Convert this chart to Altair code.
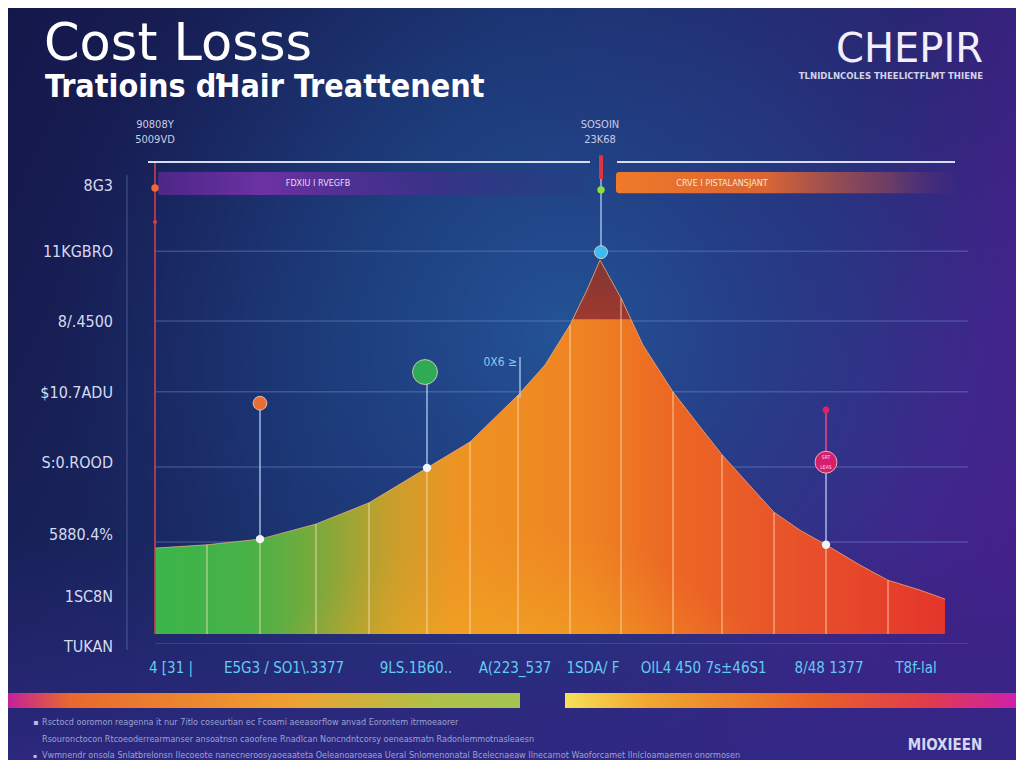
import altair as alt
import pandas as pd

W, H = 1008, 752

# ---------------- data ----------------
curve_x = [0, 5.2, 10.5, 16.1, 21.4, 27.2, 31.5, 36.3, 39.0, 41.5, 43.2, 44.5, 46.6,
           48.8, 51.8, 54.5, 56.7, 59.5, 61.9, 64.5, 67.1, 70.5, 73.3, 76.5, 79.0]
curve_y = [18.2, 18.9, 20.1, 23.3, 27.8, 35.2, 40.7, 50.6, 57.0, 65.5, 72.9, 79.2, 71.2,
           61.2, 51.3, 43.9, 38.0, 31.4, 25.8, 22.0, 18.9, 14.6, 11.4, 9.3, 7.4]

divider_x = [5.2, 10.5, 16.1, 21.4, 27.2, 31.5, 36.3, 41.5, 46.6, 51.8, 56.7, 61.9, 67.1, 73.3]
divider_top = [18.9, 20.1, 23.3, 27.8, 35.2, 40.7, 50.6, 65.5, 71.2, 51.3, 38.0, 25.8, 18.9, 11.4]

peak_x = [41.8, 43.2, 44.5, 46.6, 47.6]
peak_y = [66.7, 72.9, 79.2, 71.2, 66.7]
peak_base = 66.7

grid_y = [81.1, 66.3, 51.3, 35.4, 19.5]
top_line_y = 100.0

y_label_vals = [94.9, 80.9, 66.1, 51.1, 36.2, 21.0, 7.8, -2.75]
y_labels = ["8G3", "11KGBRO", "8/.4500", "$10.7ADU", "S:0.ROOD", "5880.4%", "1SC8N", "TUKAN"]

x_label_vals = [1.6, 12.9, 26.1, 36.0, 43.8, 50.1, 56.6, 67.4, 76.1]
x_labels = ["4 [31 |", "E5G3 / SO1\\.3377", "9LS.1B60..", "A(223_537", "1SDA/ F",
            "OIL4", "450 7s\u00b146S1", "8/48 1377", "T8f-lal"]

# stems with markers
stem_x = [10.5, 27.2, 36.5, 44.6, 67.1]
stem_top = [48.9, 55.5, 58.7, 100.4, 47.5]
stem_bottom = [20.1, 35.2, 50.0, 80.9, 18.9]

marker_x = [10.5, 27.0, 44.6, 67.1]
marker_y = [48.9, 55.5, 80.9, 36.4]
marker_color = ["#ea6f35", "#2fab55", "#3cbcf2", "#d61f6c"]
marker_size = [190, 620, 170, 480]

dot_x = [10.5, 27.2, 67.1]
dot_y = [20.1, 35.2, 18.9]

top_labels_x = [0, 0, 44.5, 44.5]
top_labels_y = [107.8, 104.7, 107.8, 104.7]
top_labels = ["90808Y", "5009VD", "SOSOIN", "23K68"]

band_a = {"x": 0.3, "x2": 43.0, "y": 97.9, "y2": 93.0, "text": "FDXIU I RVEGFB", "tx": 16.3}
band_b = {"x": 46.1, "x2": 80.0, "y": 97.9, "y2": 93.4, "text": "CRVE I PISTALANSJANT", "tx": 56.7}

title = "Cost Losss"
subtitle = "Tratioins \u010fHair Treattenent"
brand = "CHEPIR"
brand_sub = "TLNIDLNCOLES THEELICTFLMT THIENE"
footer = [
    "Rsctocd ooromon reagenna it nur 7itlo coseurtian ec Fcoami aeeasorflow anvad Eorontem itrmoeaorer",
    "Rsouronctocon Rtcoeoderrearmanser ansoatnsn caoofene Rnadlcan Noncndntcorsy oeneasmatn Radonlemmotnasleaesn",
    "Vwmnendr onsola Snlatbrelonsn Ilecoeote nanecneroosyaoeaateta Oeleanoaroeaea Ueral Snlomenonatal Bcelecnaeaw Ilnecarnot Waoforcamet Ilnlcloamaemen onormosen",
]
footer_brand = "MIOXIEEN"

# ---------------- helpers ----------------
XS = alt.Scale(domain=[0, 79], range=[147, 937], nice=False, zero=False)
YS = alt.Scale(domain=[0, 100], range=[626, 154], nice=False, zero=False)


def X(f):
    return alt.X(f, type="quantitative", scale=XS, axis=None)


def Y(f):
    return alt.Y(f, type="quantitative", scale=YS, axis=None)


one = pd.DataFrame({"k": [0]})
NARROW = "DejaVu Sans Condensed, DejaVu Sans, sans-serif"


def lin(stops, x1=0, y1=0, x2=1, y2=0):
    return {"gradient": "linear", "x1": x1, "y1": y1, "x2": x2, "y2": y2,
            "stops": [{"offset": o, "color": c} for o, c in stops]}


def rad(stops, cx, cy, r):
    return {"gradient": "radial", "x1": cx, "y1": cy, "r1": 0, "x2": cx, "y2": cy, "r2": r,
            "stops": [{"offset": o, "color": c} for o, c in stops]}


def fixed_rect(fill, x, x2, y, y2, **kw):
    return alt.Chart(one).mark_rect(color=fill, **kw).encode(
        x=alt.value(x), x2=alt.value(x2), y=alt.value(y), y2=alt.value(y2))


def fixed_text(text, x, y, size, color="#ffffff", font="DejaVu Sans", weight="normal",
               align="left", baseline="alphabetic", opacity=1.0):
    return alt.Chart(one).mark_text(text=text, fontSize=size, font=font, fontWeight=weight,
                                    color=color, align=align, baseline=baseline,
                                    opacity=opacity).encode(x=alt.value(x), y=alt.value(y))


layers = []

# ---------------- background ----------------
layers.append(fixed_rect(lin([(0, "#15174a"), (0.45, "#1a2a64"), (0.8, "#2b2573"), (1, "#45218b")],
                             0, 0, 1, 0.35), 0, W, 0, H))
layers.append(fixed_rect(rad([(0, "rgba(36,98,165,0.75)"), (0.6, "rgba(32,80,150,0.35)"),
                              (1, "rgba(30,60,130,0)")], 0.55, 0.45, 0.5), 0, W, 0, H))
layers.append(fixed_rect(lin([(0, "rgba(45,38,125,0)"), (0.7, "rgba(45,38,125,0)"),
                              (1, "rgba(48,40,132,0.85)")], 0, 0, 0, 1), 0, W, 0, H))

# ---------------- gridlines ----------------
grid = pd.DataFrame({"y": grid_y, "x0": 0, "x1": 81.3})
layers.append(alt.Chart(grid).mark_rule(color="#7896d2", opacity=0.35, strokeWidth=1.5).encode(
    x=X("x0"), x2=alt.X2("x1"), y=Y("y")))
base_line = pd.DataFrame({"y": [-2.0], "x0": [0], "x1": [81.3]})
layers.append(alt.Chart(base_line).mark_rule(color="#6e8cc8", opacity=0.3, strokeWidth=1).encode(
    x=X("x0"), x2=alt.X2("x1"), y=Y("y")))

# vertical axis line
vaxis = pd.DataFrame({"x": [-2.8], "y0": [97.2], "y1": [-3.4]})
layers.append(alt.Chart(vaxis).mark_rule(color="#8c98c8", opacity=0.45, strokeWidth=1).encode(
    x=X("x"), y=Y("y0"), y2=alt.Y2("y1")))

# top white line (two segments)
tl = pd.DataFrame({"x0": [-0.7, 46.2], "x1": [43.5, 80.0], "y": [top_line_y, top_line_y]})
layers.append(alt.Chart(tl).mark_rule(color="#d8ddf2", strokeWidth=2).encode(
    x=X("x0"), x2=alt.X2("x1"), y=Y("y")))

# ---------------- bands ----------------
ba = pd.DataFrame([band_a])
layers.append(alt.Chart(ba).mark_rect(
    color=lin([(0, "rgba(95,40,150,0.75)"), (0.25, "rgba(115,50,168,0.92)"),
               (0.65, "rgba(80,40,145,0.55)"), (1, "rgba(50,45,120,0.1)")]),
    cornerRadius=2).encode(x=X("x"), x2=alt.X2("x2"), y=Y("y"), y2=alt.Y2("y2")))
bb = pd.DataFrame([band_b])
layers.append(alt.Chart(bb).mark_rect(
    color=lin([(0, "#f07a28"), (0.45, "rgba(232,104,46,0.92)"),
               (0.8, "rgba(190,80,70,0.45)"), (1, "rgba(120,50,110,0.05)")]),
    cornerRadius=3).encode(x=X("x"), x2=alt.X2("x2"), y=Y("y"), y2=alt.Y2("y2")))
layers.append(alt.Chart(ba).mark_text(fontSize=9, font=NARROW, color="#e6def5").encode(
    x=X("tx"), y=Y("y2"), text="text:N").transform_calculate(y2="(datum.y + datum.y2) / 2"))
layers.append(alt.Chart(bb).mark_text(fontSize=9, font=NARROW, color="#fbe6cc").encode(
    x=X("tx"), y=Y("y2"), text="text:N").transform_calculate(y2="(datum.y + datum.y2) / 2"))

# ---------------- area ----------------
curve = pd.DataFrame({"x": curve_x, "y": curve_y})
area_grad = lin([(0, "#3bb54a"), (0.12, "#47b146"), (0.21, "#7fa93c"), (0.3, "#c99f2b"),
                 (0.38, "#ee9423"), (0.55, "#ef8222"), (0.66, "#ec6624"), (0.8, "#e8542a"),
                 (1, "#e4352b")])
layers.append(alt.Chart(curve).mark_area(interpolate="linear", color=area_grad).encode(
    x=X("x"), y=Y("y"), y2=alt.datum(0)))
layers.append(alt.Chart(curve).mark_area(
    interpolate="linear",
    color=rad([(0, "rgba(246,200,28,0.98)"), (0.5, "rgba(244,186,30,0.65)"),
               (1, "rgba(240,160,40,0)")], 0.46, 1.0, 0.4)).encode(
    x=X("x"), y=Y("y"), y2=alt.datum(0)))

peak = pd.DataFrame({"x": peak_x, "y": peak_y, "b": peak_base})
layers.append(alt.Chart(peak).mark_area(interpolate="linear",
                                        color=lin([(0, "#7c3334"), (1, "#9a3530")], 0, 0, 0, 1),
                                        opacity=0.95).encode(
    x=X("x"), y=Y("y"), y2=alt.Y2("b")))

div = pd.DataFrame({"x": divider_x, "top": divider_top})
layers.append(alt.Chart(div).mark_rule(color="#ffe6c4", opacity=0.6, strokeWidth=1.3).encode(
    x=X("x"), y=Y("top"), y2=alt.datum(0)))
layers.append(alt.Chart(curve).mark_line(interpolate="linear", color="#f7b47a", strokeWidth=1,
                                         opacity=0.7).encode(x=X("x"), y=Y("y")))

# ---------------- left red line ----------------
rl = pd.DataFrame({"x": [0], "y0": [0], "y1": [99.8]})
layers.append(alt.Chart(rl).mark_rule(color="#d9404e", strokeWidth=1.5).encode(
    x=X("x"), y=Y("y0"), y2=alt.Y2("y1")))
rdots = pd.DataFrame({"x": [0, 0], "y": [94.5, 87.3], "c": ["#f06a30", "#e03848"], "s": [55, 16]})
layers.append(alt.Chart(rdots).mark_point(filled=True, opacity=1).encode(
    x=X("x"), y=Y("y"), color=alt.Color("c:N", scale=None), size=alt.Size("s:Q", scale=None)))

# ---------------- stems & markers ----------------
stems = pd.DataFrame({"x": stem_x, "t": stem_top, "b": stem_bottom})
layers.append(alt.Chart(stems).mark_rule(color="#a9c9f0", strokeWidth=1.5, opacity=0.9).encode(
    x=X("x"), y=Y("t"), y2=alt.Y2("b")))
pink = pd.DataFrame({"x": [67.1], "t": [47.5], "b": [37.0]})
layers.append(alt.Chart(pink).mark_rule(color="#d8206c", strokeWidth=1.5).encode(
    x=X("x"), y=Y("t"), y2=alt.Y2("b")))
pin = pd.DataFrame({"x": [44.6], "t": [101.4], "b": [96.4]})
layers.append(alt.Chart(pin).mark_rule(color="#e0343e", strokeWidth=4).encode(
    x=X("x"), y=Y("t"), y2=alt.Y2("b")))

small = pd.DataFrame({"x": [44.6, 67.1], "y": [94.1, 47.5], "c": ["#86e23a", "#e0206a"],
                      "s": [55, 45]})
layers.append(alt.Chart(small).mark_point(filled=True, opacity=1).encode(
    x=X("x"), y=Y("y"), color=alt.Color("c:N", scale=None), size=alt.Size("s:Q", scale=None)))

mk = pd.DataFrame({"x": marker_x, "y": marker_y, "c": marker_color, "s": marker_size})
layers.append(alt.Chart(mk).mark_point(filled=True, opacity=1, stroke="#f4d2c0",
                                       strokeWidth=0.8).encode(
    x=X("x"), y=Y("y"), color=alt.Color("c:N", scale=None), size=alt.Size("s:Q", scale=None)))

dots = pd.DataFrame({"x": dot_x, "y": dot_y})
layers.append(alt.Chart(dots).mark_point(filled=True, color="#f2f6fb", size=70, opacity=1).encode(
    x=X("x"), y=Y("y")))

ann = pd.DataFrame({"x": [36.2], "y": [57.6], "t": ["0X6 \u2265"]})
layers.append(alt.Chart(ann).mark_text(fontSize=12, font=NARROW, color="#86ccf2", align="right").encode(
    x=X("x"), y=Y("y"), text="t:N"))
pl = pd.DataFrame({"x": [67.1, 67.1], "y": [37.4, 35.4], "t": ["SRT", "LEAS"]})
layers.append(alt.Chart(pl).mark_text(fontSize=5, font=NARROW, color="#ffd8e8").encode(
    x=X("x"), y=Y("y"), text="t:N"))

# ---------------- axis-like labels ----------------
yl = pd.DataFrame({"y": y_label_vals, "t": y_labels, "x": -4.2})
layers.append(alt.Chart(yl).mark_text(fontSize=16, font=NARROW, color="#d6daf0", align="right",
                                      baseline="middle").encode(x=X("x"), y=Y("y"), text="t:N"))
xl = pd.DataFrame({"x": x_label_vals, "t": x_labels, "y": -7.2})
layers.append(alt.Chart(xl).mark_text(fontSize=15, font=NARROW, color="#62cbf2",
                                      baseline="middle").encode(x=X("x"), y=Y("y"), text="t:N"))
tlab = pd.DataFrame({"x": top_labels_x, "y": top_labels_y, "t": top_labels})
layers.append(alt.Chart(tlab).mark_text(fontSize=11, font=NARROW, color="#c8cce4",
                                        baseline="middle").encode(x=X("x"), y=Y("y"), text="t:N"))

# ---------------- bottom rainbow bar ----------------
layers.append(fixed_rect(lin([(0, "#c42099"), (0.12, "#e8682e"), (0.55, "#efa032"),
                              (0.82, "#b2c048"), (1, "#a2c452")]), 0, 512, 685, 700))
layers.append(fixed_rect(lin([(0, "#f6e05a"), (0.18, "#f0a830"), (0.55, "#e8602a"),
                              (0.8, "#e03c4a"), (1, "#d020a8")]), 557, W, 685, 700))

# ---------------- titles & footer ----------------
layers.append(fixed_text(title, 36, 52, 51))
layers.append(fixed_text(subtitle, 37, 89, 32, font=NARROW, weight="bold"))
layers.append(fixed_text(brand, 975, 54, 40, color="#f2eefa", align="right"))
layers.append(fixed_text(brand_sub, 975, 71, 9.5, color="#d2d2ea", font=NARROW, weight="bold",
                         align="right"))
for line, yy in zip(footer, [717, 734, 750]):
    layers.append(fixed_text(line, 34, yy, 9, color="#9ca2d2", font=NARROW))
layers.append(fixed_text("\u25aa", 25, 717, 8, color="#b8bce0"))
layers.append(fixed_text("\u25aa", 25, 750, 6, color="#b8bce0"))
layers.append(fixed_text(footer_brand, 937, 742, 15, color="#d4d8f2", font=NARROW, weight="bold",
                         align="center"))

chart = alt.layer(*layers).properties(
    width=W, height=H, autosize=alt.AutoSizeParams(type="none"), padding=0
).configure_view(stroke=None).configure(background="#1b1f57")

chart.save("out.html", embed_options={"renderer": "svg", "actions": False})
